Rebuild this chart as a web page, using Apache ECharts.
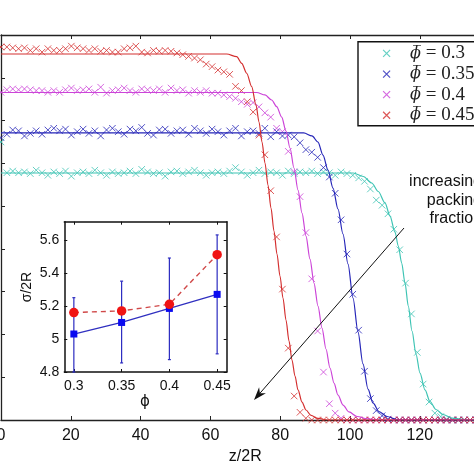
<!DOCTYPE html>
<html><head><meta charset="utf-8">
<script src="https://cdn.jsdelivr.net/npm/echarts@6/dist/echarts.min.js"></script>
<style>html,body{margin:0;padding:0;background:#fff}#c{width:474px;height:474px}</style>
</head><body><div id="c"></div>
<script>
// ---- main panel: sample positions z/2R ----
const zSamples = [0,1.68,3.36,5.04,6.72,8.4,10.08,11.76,13.44,15.12,16.8,18.48,20.16,21.84,23.52,25.2,26.88,28.56,30.24,31.92,33.6,35.28,36.96,38.64,40.32,42,43.68,45.36,47.04,48.72,50.4,52.08,53.76,55.44,57.12,58.8,60.48,62.16,63.84,65.52,67.2,68.88,70.56,72.24,73.92,75.6,77.28,78.96,80.64,82.32,84,85.68,87.36,89.04,90.72,92.4,94.08,95.76,97.44,99.12,100.8,102.48,104.16,105.84,107.52,109.2,110.88,112.56,114.24,115.92,117.6,119.28,120.96,122.64,124.32,126,127.68,129.36,131.04,132.72,134.4,136.08];

const dataPhi030 = [0.325,0.289,0.291,0.289,0.290,0.288,0.292,0.289,0.286,0.290,0.288,0.291,0.285,0.289,0.290,0.288,0.292,0.289,0.286,0.290,0.288,0.289,0.291,0.288,0.293,0.290,0.288,0.289,0.285,0.290,0.291,0.288,0.290,0.292,0.289,0.286,0.289,0.290,0.288,0.291,0.295,0.290,0.286,0.289,0.292,0.288,0.290,0.289,0.286,0.291,0.288,0.290,0.289,0.291,0.288,0.290,0.289,0.286,0.290,0.288,0.286,0.283,0.279,0.270,0.257,0.251,0.241,0.223,0.199,0.160,0.124,0.079,0.042,0.021,0.008,0.004,0.001,0,0,0,0,0];
const dataPhi035 = [0.330,0.334,0.339,0.338,0.332,0.335,0.338,0.334,0.339,0.341,0.338,0.340,0.333,0.337,0.340,0.335,0.338,0.332,0.339,0.341,0.337,0.334,0.340,0.338,0.342,0.335,0.333,0.339,0.340,0.335,0.338,0.339,0.334,0.341,0.338,0.335,0.340,0.337,0.333,0.338,0.341,0.332,0.337,0.338,0.335,0.341,0.331,0.337,0.332,0.333,0.331,0.324,0.316,0.313,0.307,0.295,0.284,0.265,0.234,0.194,0.147,0.105,0.057,0.025,0.011,0.005,0.001,0,0,0,0,0,0,0,0,0,0,0,0,0,0,0];
const dataPhi040 = [0.383,0.386,0.387,0.386,0.387,0.386,0.385,0.385,0.383,0.385,0.383,0.386,0.388,0.385,0.386,0.387,0.383,0.389,0.382,0.385,0.386,0.388,0.385,0.383,0.387,0.386,0.385,0.387,0.383,0.388,0.385,0.386,0.382,0.385,0.383,0.385,0.382,0.382,0.380,0.378,0.376,0.372,0.369,0.371,0.366,0.359,0.354,0.341,0.337,0.314,0.290,0.261,0.219,0.165,0.104,0.056,0.019,0.008,0.002,0,0,0,0,0,0,0,0,0,0,0,0,0,0,0,0,0,0,0,0,0,0,0];
const dataPhi045 = [0.436,0.436,0.435,0.434,0.435,0.432,0.434,0.430,0.434,0.432,0.432,0.434,0.437,0.435,0.434,0.432,0.434,0.431,0.432,0.430,0.430,0.434,0.435,0.437,0.430,0.429,0.432,0.431,0.432,0.431,0.429,0.427,0.425,0.423,0.421,0.416,0.413,0.409,0.407,0.404,0.390,0.385,0.372,0.360,0.333,0.310,0.268,0.214,0.153,0.084,0.028,0.009,0.002,0,0,0,0,0,0,0,0,0,0,0,0,0,0,0,0,0,0,0,0,0,0,0,0,0,0,0,0,0];

// fitted profiles
const fitZ030 = [0,100.95,103.81,106.22,108.11,110.03,111.46,112.89,113.84,114.81,115.76,116.70,117.77,118.91,120.06,121.49,122.92,124.64,126.65,129.23,132.95,140];
const fitV030 = [0.2887,0.2887,0.2846,0.2770,0.2671,0.2537,0.2384,0.2197,0.2034,0.1835,0.1601,0.1332,0.1040,0.0771,0.0549,0.0351,0.0216,0.0123,0.0064,0.0023,0.0004,0];
const fitZ035 = [0,86.73,89.11,90.83,92.26,93.70,95.13,96.56,97.99,99.43,100.86,102.29,103.72,105.16,106.59,108.31,110.60,113.47,117.2,140];
const fitV035 = [0.3356,0.3356,0.3320,0.3249,0.3097,0.2922,0.2711,0.2466,0.2174,0.1823,0.1426,0.1029,0.0655,0.0362,0.0199,0.0099,0.0041,0.0006,0,0];
const fitZ040 = [0,73.27,75.64,77.56,79.00,80.43,81.66,82.81,83.95,85.10,86.25,87.39,88.54,89.68,90.83,91.98,93.12,94.27,95.42,96.56,98.00,99.71,102.01,105.16,108.6,140];
const fitV040 = [0.3828,0.3828,0.3799,0.3740,0.3662,0.3541,0.3378,0.3179,0.2945,0.2688,0.2419,0.2150,0.1881,0.1601,0.1332,0.1075,0.0830,0.0608,0.0432,0.0292,0.0175,0.0094,0.0041,0.0012,0,0];
const fitZ045 = [0,64.67,67.54,68.97,70.40,71.83,73.07,73.93,74.79,75.64,76.50,77.36,78.22,79.08,79.94,80.80,81.66,82.52,83.38,84.24,85.10,86.25,87.39,88.83,90.83,93.70,140];
const fitV045 = [0.4278,0.4278,0.4247,0.4169,0.4053,0.3897,0.3682,0.3483,0.3249,0.3004,0.2747,0.2478,0.2209,0.1940,0.1683,0.1426,0.1169,0.0924,0.0701,0.0514,0.0351,0.0210,0.0117,0.0053,0.0018,0,0];

const xTicksMain = [0,20,40,60,80,100,120,140];

// ---- inset ----
const phiInset = [0.3,0.35,0.4,0.45];
const sigmaRed = [5.16,5.17,5.21,5.51];
const sigmaBlue = [5.03,5.10,5.185,5.27];
const errLow = [4.80,4.855,4.875,4.91];
const errHigh = [5.25,5.35,5.49,5.63];
const insetYTicks = [4.8,5,5.2,5.4,5.6];

const phiBarValues = ['0.3','0.35','0.4','0.45'];
const names = phiBarValues.map(v=>'\u03D5\u0305 = '+v);
const colors = ['#3ec4b4','#2626b8','#cc44d8','#d43030'];
const dataSets = [dataPhi030,dataPhi035,dataPhi040,dataPhi045];
const fits = [[fitZ030,fitV030],[fitZ035,fitV035],[fitZ040,fitV040],[fitZ045,fitV045]];
const XPATH = 'path://M0,0L10,10M10,0L0,10';
const axisCol = '#222';
const sans = 'Liberation Sans';

const series = [];
for (let s=0;s<4;s++){
  series.push({
    type:'scatter', name:names[s], xAxisIndex:0, yAxisIndex:0,
    data: zSamples.map((zz,i)=>[zz,dataSets[s][i]]),
    symbol:XPATH, symbolSize:6.5, z:2+s*0.01,
    itemStyle:{color:colors[s], borderColor:colors[s], borderWidth:1},
    emphasis:{disabled:true}, silent:true
  });
}
for (let s=0;s<4;s++){
  series.push({
    type:'line', xAxisIndex:0, yAxisIndex:0,
    data: fits[s][0].map((zz,i)=>[zz,fits[s][1][i]]),
    showSymbol:false, smooth:0.3, smoothMonotone:'x',
    lineStyle:{color:colors[s], width:1.2}, z:3, silent:true
  });
}
// inset error bars
series.push({
  type:'custom', xAxisIndex:2, yAxisIndex:1, z:4, silent:true,
  data: phiInset.map((p,i)=>[p,errLow[i],errHigh[i]]),
  renderItem:(params,api)=>{
    const lo = api.coord([api.value(0),api.value(1)]);
    const hi = api.coord([api.value(0),api.value(2)]);
    const st = {stroke:'#2b2bc0', lineWidth:1.2};
    return {type:'group',children:[
      {type:'line',shape:{x1:lo[0],y1:lo[1],x2:hi[0],y2:hi[1]},style:st},
      {type:'line',shape:{x1:lo[0]-1.5,y1:lo[1],x2:lo[0]+1.5,y2:lo[1]},style:st},
      {type:'line',shape:{x1:hi[0]-1.5,y1:hi[1],x2:hi[0]+1.5,y2:hi[1]},style:st}
    ]};
  }
});
series.push({
  type:'line', xAxisIndex:2, yAxisIndex:1, z:5, silent:true,
  data: phiInset.map((p,i)=>[p,sigmaBlue[i]]),
  symbol:'rect', symbolSize:7, showSymbol:true,
  itemStyle:{color:'#0a0af0'}, lineStyle:{color:'#3030c0', width:1.3}
});
series.push({
  type:'line', xAxisIndex:2, yAxisIndex:1, z:6, silent:true,
  data: phiInset.map((p,i)=>[p,sigmaRed[i]]),
  symbol:'circle', symbolSize:9.5, showSymbol:true,
  itemStyle:{color:'#f01414'}, lineStyle:{color:'#d04848', width:1.4, type:[5,4]}
});

const mainAxisLine = {show:true, lineStyle:{color:axisCol, width:1.3}};
const insetAxisLine = {show:true, lineStyle:{color:'#111', width:1.5}};

const option = {
  animation:false,
  backgroundColor:'#fff',
  grid:[
    {left:1, top:35, width:488.6, height:385, outerBoundsMode:'none', containLabel:false},
    {left:64.3, top:221.7, width:162.4, height:150.3, outerBoundsMode:'none', containLabel:false,
     show:true, backgroundColor:'#fff', borderWidth:0}
  ],
  xAxis:[
    {gridIndex:0, type:'value', min:0, max:140, interval:20, position:'bottom',
     axisLine:mainAxisLine, axisTick:{inside:true,length:4,lineStyle:{color:axisCol}},
     axisLabel:{color:'#111', fontSize:16, fontFamily:sans, margin:8,
       customValues:xTicksMain, showMinLabel:true},
     splitLine:{show:false},
     name:'z/2R', nameLocation:'middle', nameGap:26,
     nameTextStyle:{color:'#111', fontSize:16, fontFamily:sans}},
    {gridIndex:0, type:'value', min:0, max:140, interval:20, position:'top',
     axisLine:mainAxisLine, axisTick:{inside:true,length:4,lineStyle:{color:axisCol}},
     axisLabel:{show:false}, splitLine:{show:false}},
    {gridIndex:1, type:'value', min:0.29, max:0.46, position:'bottom',
     axisLine:insetAxisLine,
     axisTick:{inside:true,length:3,customValues:phiInset,lineStyle:{color:'#111'}},
     axisLabel:{customValues:phiInset, formatter:v=>String(+v.toFixed(2)),
       color:'#111', fontSize:14, fontFamily:sans, margin:7},
     splitLine:{show:false}},
    {gridIndex:1, type:'value', min:0.29, max:0.46, position:'top',
     axisLine:insetAxisLine,
     axisTick:{inside:true,length:3,customValues:phiInset,lineStyle:{color:'#111'}},
     axisLabel:{show:false}, splitLine:{show:false}}
  ],
  yAxis:[
    {gridIndex:0, type:'value', min:0, max:0.45, interval:0.05,
     axisLine:mainAxisLine, axisTick:{inside:true,length:4,lineStyle:{color:axisCol}},
     axisLabel:{color:'#111', fontSize:16, fontFamily:sans}, splitLine:{show:false}},
    {gridIndex:1, type:'value', min:4.8, max:5.71,
     axisLine:insetAxisLine,
     axisTick:{inside:true,length:3,customValues:insetYTicks,lineStyle:{color:'#111'}},
     axisLabel:{customValues:insetYTicks, formatter:v=>String(+v.toFixed(1)),
       color:'#111', fontSize:14, fontFamily:sans, margin:5},
     splitLine:{show:false}},
    {gridIndex:1, type:'value', min:4.8, max:5.71, position:'right',
     axisLine:insetAxisLine,
     axisTick:{inside:true,length:3,customValues:insetYTicks,lineStyle:{color:'#111'}},
     axisLabel:{show:false}, splitLine:{show:false}}
  ],
  legend:{
    show:true, orient:'vertical', left:358, top:41.7, z:6,
    data:names.map(n=>({name:n, icon:XPATH})),
    itemWidth:7, itemHeight:7, itemGap:1.6,
    padding:[2.25,10,2,24.5],
    borderWidth:0, backgroundColor:'transparent',
    itemStyle:{borderWidth:1.2, borderColor:'inherit'},
    formatter:n=>'{p|\u03D5\u0305}{t| = '+n.split('= ')[1]+'}',
    textStyle:{color:'#222', lineHeight:14, padding:[0,0,0,15],
      rich:{
        p:{fontFamily:'DejaVu Serif', fontStyle:'italic', fontSize:16, lineHeight:14, color:'#222'},
        t:{fontFamily:'Liberation Serif', fontSize:19, lineHeight:14, color:'#222'}
      }},
    selectedMode:false
  },
  graphic:[
    {type:'rect', z:5, shape:{x:358,y:41.7,width:200,height:84}, style:{fill:'#fff', stroke:'#111', lineWidth:1.4}},
    {type:'text', z:10, style:{text:'increasing\npacking\nfraction', x:482, y:172.7,
      textAlign:'right', align:'right', textVerticalAlign:'top', verticalAlign:'top',
      font:'16px "Liberation Sans"', lineHeight:18.3, fill:'#111'}},
    {type:'line', z:10, shape:{x1:404,y1:228,x2:259,y2:394.3}, style:{stroke:'#111', lineWidth:1}},
    {type:'polygon', z:10, shape:{points:[[254,400],[259.1,387.2],[259.9,393.2],[265.9,393.2]]}, style:{fill:'#111'}},
    {type:'text', z:10, rotation:Math.PI/2, x:27, y:287,
      style:{text:'\u03C3/2R', x:0, y:0, textAlign:'center', align:'center', textVerticalAlign:'middle', verticalAlign:'middle',
      font:'14px "Liberation Sans"', fill:'#111'}},
    {type:'text', z:10, style:{text:'\u03D5', x:145, y:402, textAlign:'center', align:'center',
      textVerticalAlign:'middle', verticalAlign:'middle', font:'15px "DejaVu Sans"', fill:'#111'}}
  ],
  series:series
};
const chart = echarts.init(document.getElementById('c'), null, {renderer:'canvas'});
chart.setOption(option);
</script></body></html>
